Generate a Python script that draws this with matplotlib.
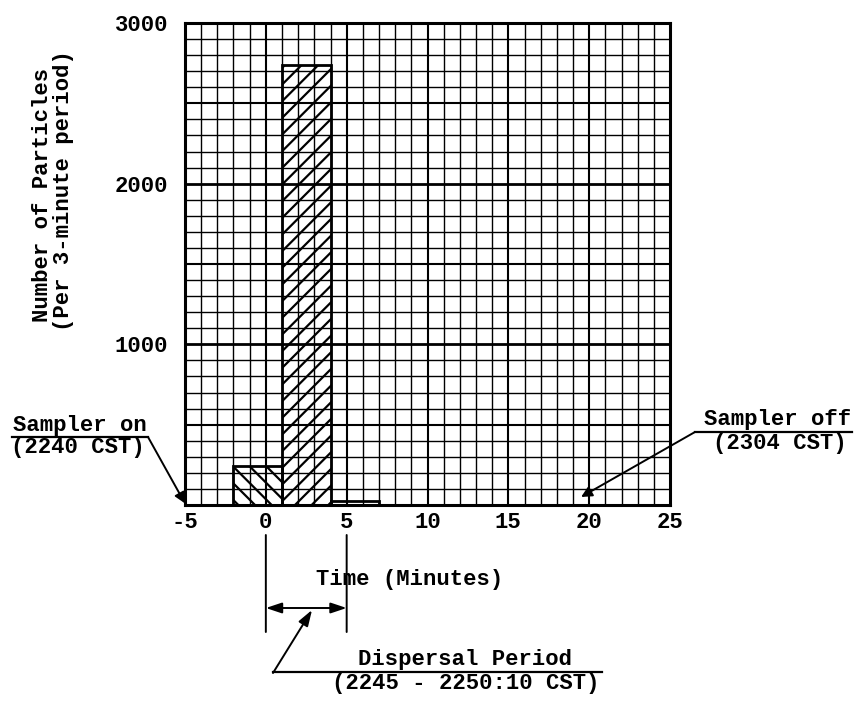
import matplotlib
matplotlib.use('Agg')
from matplotlib import pyplot as plt
from matplotlib.lines import Line2D

# Данные: периоды отбора по 3 минуты
t_start = [-2, 1, 4]        # начало периода, мин
t_width = [3, 3, 3]         # длина периода, мин
counts = [240, 2740, 25]    # число частиц за период
hatches = ['\\\\', '//', '']

x_ticks = [-5, 0, 5, 10, 15, 20, 25]
y_ticks = [1000, 2000, 3000]

sampler_on_t = -5     # 2240 CST
sampler_off_t = 19.5  # 2304 CST
disp_start, disp_end = 0, 5

W, H = 857, 702


def px(x, y):
    # пиксели картинки -> доли фигуры
    return x / W, 1 - y / H


plt.rcParams['font.family'] = ['Liberation Mono', 'DejaVu Sans Mono']
plt.rcParams['font.weight'] = 'bold'
plt.rcParams['font.size'] = 16
plt.rcParams['hatch.linewidth'] = 1.6
plt.rcParams['axes.unicode_minus'] = False

fig = plt.figure(figsize=(W / 100, H / 100), dpi=100)
ax = fig.add_axes([185 / W, 1 - 505 / H, 485 / W, 482 / H])

# сетка миллиметровки
for x in range(-4, 25):
    ax.axvline(x, color='k', lw=1.5 if x % 5 == 0 else 1.0, zorder=1)
for y in range(100, 3000, 100):
    lw = 1.0
    if y % 500 == 0:
        lw = 1.5
    if y % 1000 == 0:
        lw = 2.0
    ax.axhline(y, color='k', lw=lw, zorder=1)

# столбцы
for s, w, c, h in zip(t_start, t_width, counts, hatches):
    ax.bar(s, c, width=w, align='edge', facecolor='none', edgecolor='k',
           lw=2, hatch=h, zorder=3)

ax.set_xlim(-5, 25)
ax.set_ylim(0, 3000)
ax.set_xticks(x_ticks)
ax.set_yticks(y_ticks)
ax.tick_params(length=0)
ax.tick_params(axis='y', pad=12)
ax.tick_params(axis='x', pad=5)
for sp in ax.spines.values():
    sp.set_linewidth(2.2)

# подписи осей
fig.text(*px(43, 195), 'Number of Particles', rotation=90, ha='center', va='center')
fig.text(*px(64, 191), '(Per 3-minute period)', rotation=90, ha='center', va='center')
fig.text(*px(410, 580), 'Time (Minutes)', ha='center', va='center')

arr = dict(color='k', lw=1.4, shrinkA=0, shrinkB=0)

# Sampler on
fig.text(*px(80, 425), 'Sampler on', ha='center', va='center')
fig.text(*px(78, 447), '(2240 CST)', ha='center', va='center')
fig.add_artist(Line2D([12 / W, 148 / W], [1 - 437 / H] * 2, color='k', lw=1.6))
ax.annotate('', xy=(sampler_on_t, 10), xycoords='data',
            xytext=px(148, 437), textcoords='figure fraction',
            arrowprops=dict(arrowstyle='-|>', **arr), annotation_clip=False)

# Sampler off
fig.text(*px(778, 420), 'Sampler off', ha='center', va='center')
fig.text(*px(780, 443), '(2304 CST)', ha='center', va='center')
fig.add_artist(Line2D([695 / W, 852 / W], [1 - 432 / H] * 2, color='k', lw=1.6))
ax.annotate('', xy=(sampler_off_t, 50), xycoords='data',
            xytext=px(695, 432), textcoords='figure fraction',
            arrowprops=dict(arrowstyle='-|>', **arr), annotation_clip=False)

# Dispersal period
for t in (disp_start, disp_end):
    ax.annotate('', xy=(t, 1 - 535 / H), xycoords=('data', 'figure fraction'),
                xytext=(t, 1 - 632 / H), textcoords=('data', 'figure fraction'),
                arrowprops=dict(arrowstyle='-', **arr), annotation_clip=False)
ax.annotate('', xy=(disp_start, 1 - 608 / H), xycoords=('data', 'figure fraction'),
            xytext=(disp_end, 1 - 608 / H), textcoords=('data', 'figure fraction'),
            arrowprops=dict(arrowstyle='<|-|>,head_length=0.6,head_width=0.2', **arr),
            annotation_clip=False)
ax.annotate('', xy=px(312, 610), xycoords='figure fraction',
            xytext=px(273, 673), textcoords='figure fraction',
            arrowprops=dict(arrowstyle='-|>,head_length=0.6,head_width=0.2', **arr),
            annotation_clip=False)
fig.add_artist(Line2D([273 / W, 602 / W], [1 - 672 / H] * 2, color='k', lw=1.6))
fig.text(*px(465, 660), 'Dispersal Period', ha='center', va='center')
fig.text(*px(466, 684), '(2245 - 2250:10 CST)', ha='center', va='center')

fig.savefig('out.png', dpi=100)
